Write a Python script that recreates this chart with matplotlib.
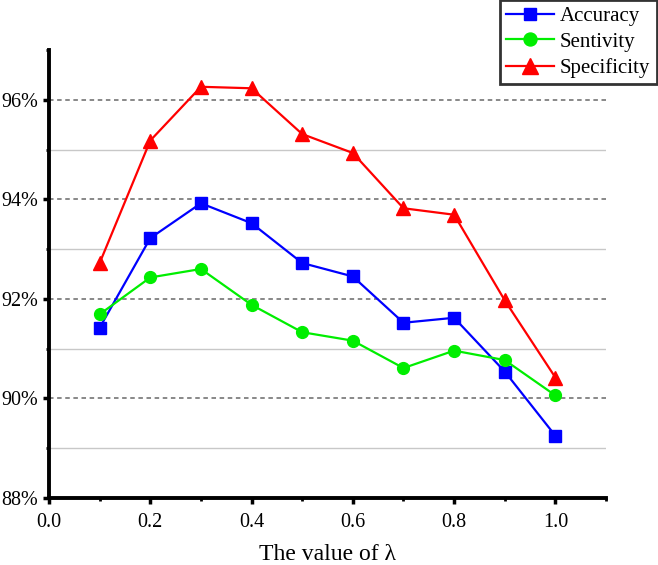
import matplotlib.pyplot as plt
from matplotlib.ticker import FuncFormatter, MultipleLocator

plt.rcParams['font.family'] = ['Liberation Serif', 'DejaVu Serif']

lam = [0.1, 0.2, 0.3, 0.4, 0.5, 0.6, 0.7, 0.8, 0.9, 1.0]
accuracy = [91.42, 93.22, 93.92, 93.52, 92.72, 92.45, 91.52, 91.62, 90.54, 89.25]
sentivity = [91.69, 92.43, 92.60, 91.88, 91.33, 91.16, 90.61, 90.96, 90.77, 90.06]
specificity = [92.72, 95.18, 96.26, 96.23, 95.31, 94.93, 93.82, 93.69, 91.97, 90.42]

fig = plt.figure(figsize=(6.58, 5.65), dpi=100)
ax = fig.add_axes([0.0745, 0.1186, 0.8465, 0.793])

# grid: dashed at even %, light at odd %
for y in [90, 92, 94, 96]:
    ax.axhline(y, color='#7f7f7f', lw=1.3, ls=(0, (2.5, 2)), zorder=1)
for y in [89, 91, 93, 95]:
    ax.axhline(y, color='#c8c8c8', lw=1.0, zorder=1)

ax.plot(lam, accuracy, color='#0000ff', marker='s', ms=8, lw=1.6, label='Accuracy', zorder=3)
ax.plot(lam, sentivity, color='#00ee00', marker='o', ms=8.5, lw=1.6, label='Sentivity', zorder=3)
ax.plot(lam, specificity, color='#ff0000', marker='^', ms=10, lw=1.6, label='Specificity', zorder=3)

ax.set_xlim(0, 1.1)
ax.set_ylim(88, 97)
ax.xaxis.set_major_locator(MultipleLocator(0.2))
ax.xaxis.set_minor_locator(MultipleLocator(0.1))
ax.yaxis.set_major_locator(MultipleLocator(2))
ax.yaxis.set_minor_locator(MultipleLocator(1))
ax.yaxis.set_major_formatter(FuncFormatter(lambda v, p: '%d%%' % v))
ax.xaxis.set_major_formatter(FuncFormatter(lambda v, p: '%.1f' % v))

for s in ['top', 'right']:
    ax.spines[s].set_visible(False)
for s in ['left', 'bottom']:
    ax.spines[s].set_linewidth(2.8)

ax.tick_params(which='major', direction='out', length=4.5, width=2.5, labelsize=14.5)
ax.tick_params(axis='y', which='major', pad=3.5)
ax.tick_params(axis='x', which='major', pad=6)
ax.tick_params(which='minor', direction='out', length=2.5, width=2)

ax.set_xlabel('The value of λ', fontsize=17, labelpad=9)

leg = fig.legend(loc='upper right', bbox_to_anchor=(0.998, 1.0), fontsize=15,
                 frameon=True, fancybox=False, edgecolor='black', handlelength=2.3,
                 borderpad=0.3, labelspacing=0.3, handletextpad=0.3, borderaxespad=0,
                 markerscale=1.1)
leg.get_frame().set_linewidth(2)

fig.savefig('out.png', dpi=100)
